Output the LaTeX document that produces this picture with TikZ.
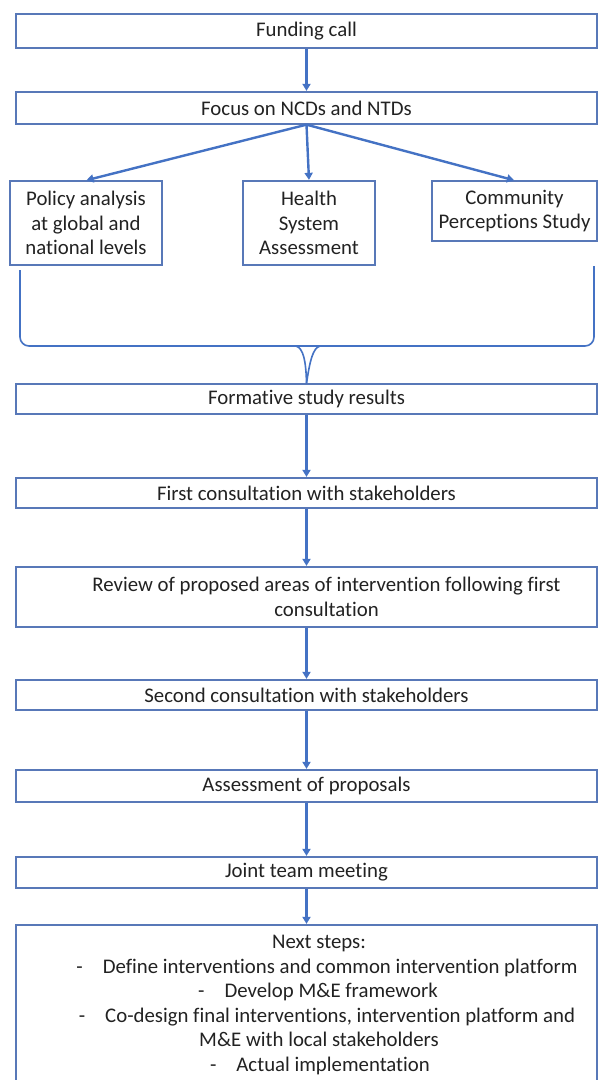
\documentclass[tikz,border=0pt]{standalone}
\usepackage{fontspec}
\setmainfont{Carlito}[Ligatures={NoCommon}]
\usetikzlibrary{arrows.meta}
\definecolor{bl}{HTML}{4472C4}
\definecolor{bx}{HTML}{5878B8}
\definecolor{tx}{HTML}{222222}
\begin{document}
\begin{tikzpicture}[x=1pt,y=-1pt,
  box/.style={draw=bx, line width=1.3pt, rectangle, inner sep=0pt, text=tx,
    align=center, font=\fontsize{20.8}{24.5}\selectfont},
  arr/.style={draw=bl, line width=2.4pt, -{Triangle[length=7pt,width=8pt]}, shorten >=0.5pt},
  brace/.style={draw=bl, line width=1.6pt, rounded corners=9pt}]
\useasboundingbox (0,0) rectangle (600,1080);
\fill[white] (0,0) rectangle (600,1080);
\node[box, minimum width=581pt, minimum height=34pt] (fund) at (306.5,31) {Funding call};
\node[box, minimum width=581pt, minimum height=32pt] (focus) at (306.5,108) {Focus on NCDs and NTDs};
\node[box, minimum width=152pt, minimum height=84pt] (policy) at (86,223) {Policy analysis\\at global and\\national levels};
\node[box, minimum width=132pt, minimum height=84pt] (health) at (309,223) {Health\\System\\Assessment};
\node[box, minimum width=165pt, minimum height=60pt] (comm) at (514.5,211) {Community\\Perceptions Study};
\node[box, minimum width=581pt, minimum height=30pt] (form) at (306.5,399) {Formative study results};
\node[box, minimum width=581pt, minimum height=30pt] (first) at (306.5,493) {First consultation with stakeholders};
\node[box, minimum width=581pt, minimum height=60pt] (review) at (306.5,597) {\hspace*{40pt}Review of proposed areas of intervention following first\\\hspace*{40pt}consultation};
\node[box, minimum width=581pt, minimum height=30pt] (second) at (306.5,695) {Second consultation with stakeholders};
\node[box, minimum width=581pt, minimum height=32pt] (assess) at (306.5,786) {Assessment of proposals};
\node[box, minimum width=581pt, minimum height=31pt] (joint) at (306.5,872.5) {Joint team meeting};
\node[box, minimum width=581pt, minimum height=160pt] (next) at (306.5,1005) {%
\hspace*{25pt}Next steps:\\
\hspace*{41pt}-\hspace{20pt}Define interventions and common intervention platform\\
\hspace*{23pt}-\hspace{20pt}Develop M\&E framework\\
\hspace*{41pt}-\hspace{20pt}Co-design final interventions, intervention platform and\\
\hspace*{25pt}M\&E with local stakeholders\\
\hspace*{27pt}-\hspace{20pt}Actual implementation};
\draw[arr] (fund) -- (focus);
\draw[arr] (focus.south) -- (policy.north);
\draw[arr] (focus.south) -- (health.north);
\draw[arr] (focus.south) -- (comm.north);
\coordinate (bl) at (20,270);
\coordinate (br) at (594,266);
\coordinate (mid) at (308,346);
\draw[brace] (bl) -- (20,346) -- (mid);
\draw[brace] (br) -- (594,346) -- (mid);
\draw[draw=bl, line width=1.6pt] (296,346) .. controls (303,348) and (306,360) .. (form.north);
\draw[draw=bl, line width=1.6pt] (320,346) .. controls (313,348) and (310,360) .. (form.north);
\draw[arr] (form) -- (first);
\draw[arr] (first) -- (review);
\draw[arr] (review) -- (second);
\draw[arr] (second) -- (assess);
\draw[arr] (assess) -- (joint);
\draw[arr] (joint) -- (next);
\end{tikzpicture}
\end{document}
